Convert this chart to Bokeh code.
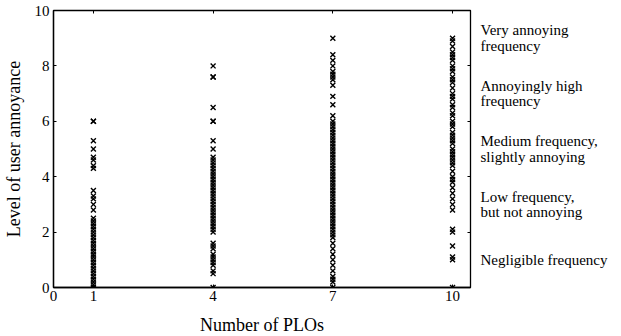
from bokeh.plotting import figure
from bokeh.models import Range1d, LinearAxis, FixedTicker, ColumnDataSource
from bokeh.embed import file_html
from bokeh.resources import INLINE

# ---- data ----
plo_counts = [1, 4, 7, 10]
annoy_1 = [6.0, 6.0, 5.3, 5.0, 4.7, 4.6, 4.4, 4.3, 3.5, 3.3, 3.2, 3.0, 2.8, 2.5, 2.4, 2.3,
           2.2, 2.1, 2.0, 1.9, 1.8, 1.7, 1.6, 1.5, 1.4, 1.3, 1.2, 1.1, 1.0, 0.9, 0.8, 0.7,
           0.6, 0.5, 0.4, 0.3, 0.2, 0.1, 0.0]
annoy_4 = [8.0, 7.6, 7.6, 6.5, 6.0, 6.0, 5.3, 5.0, 4.7, 4.6, 4.5, 4.4, 4.3, 4.2, 4.1, 4.0,
           3.9, 3.8, 3.7, 3.6, 3.5, 3.4, 3.3, 3.2, 3.1, 3.0, 2.9, 2.8, 2.7, 2.6, 2.5, 2.4,
           2.3, 2.2, 2.1, 2.0, 1.6, 1.5, 1.4, 1.2, 1.1, 1.0, 0.9, 0.8, 0.6, 0.5, 0.0]
annoy_7 = [9.0, 8.4, 8.2, 8.0, 7.8, 7.7, 7.6, 7.5, 7.3, 6.9, 6.6, 6.2, 6.0, 5.9, 5.8, 5.7,
           5.6, 5.5, 5.4, 5.3, 5.2, 5.1, 5.0, 4.9, 4.8, 4.7, 4.6, 4.5, 4.4, 4.3, 4.2, 4.1,
           4.0, 3.9, 3.8, 3.7, 3.6, 3.5, 3.4, 3.3, 3.2, 3.1, 3.0, 2.9, 2.8, 2.7, 2.6, 2.5,
           2.4, 2.3, 2.2, 2.1, 2.0, 1.9, 1.8, 1.6, 1.4, 1.2, 1.0, 0.8, 0.6, 0.4, 0.3, 0.2, 0.0]
annoy_10 = [9.0, 8.9, 8.7, 8.5, 8.4, 8.3, 8.2, 8.0, 7.9, 7.8, 7.6, 7.5, 7.4, 7.2, 7.0, 6.9,
            6.8, 6.6, 6.5, 6.3, 6.2, 6.0, 5.9, 5.8, 5.6, 5.5, 5.4, 5.3, 5.2, 5.0, 4.9, 4.8,
            4.7, 4.6, 4.5, 4.4, 4.2, 4.0, 3.9, 3.8, 3.6, 3.4, 3.2, 3.0, 2.8, 2.1, 2.0, 1.5,
            1.1, 1.0, 0.0]
x_ticks = [0, 1, 4, 7, 10]
y_ticks = [0, 2, 4, 6, 8, 10]
level_labels = ["Very annoying\nfrequency", "Annoyingly high\nfrequency",
                "Medium frequency,\nslightly annoying", "Low frequency,\nbut not annoying",
                "Negligible frequency"]
level_values = [9, 7, 5, 3, 1]

FONT = "Liberation Serif"

xs, ys = [], []
for n, vals in zip(plo_counts, [annoy_1, annoy_4, annoy_7, annoy_10]):
    xs += [n] * len(vals)
    ys += vals
src = ColumnDataSource(dict(x=xs, y=ys))

p = figure(output_backend="svg", toolbar_location=None,
           frame_width=417, frame_height=277,
           x_range=Range1d(0, 10.45), y_range=Range1d(0, 10),
           min_border_left=46, min_border_right=6, min_border_top=10, min_border_bottom=2)
p.background_fill_color = "white"
p.border_fill_color = "white"
p.outline_line_color = "black"
p.outline_line_width = 1.3
p.xgrid.visible = False
p.ygrid.visible = False

p.scatter("x", "y", source=src, marker="x", size=7, line_color="black", line_width=1.4)

for ax in (p.xaxis[0], p.yaxis[0]):
    ax.major_tick_in = 3
    ax.major_tick_out = 0
    ax.minor_tick_line_color = None
    ax.axis_line_color = "black"
    ax.axis_line_width = 1.3
    ax.major_label_text_font = FONT
    ax.major_label_text_font_size = "15px"
    ax.major_label_text_color = "black"
    ax.axis_label_text_font = FONT
    ax.axis_label_text_font_size = "18px"
    ax.axis_label_text_font_style = "normal"
    ax.axis_label_text_color = "black"

p.xaxis.ticker = FixedTicker(ticks=x_ticks)
p.yaxis.ticker = FixedTicker(ticks=y_ticks)
p.xaxis.axis_label = "Number of PLOs"
p.yaxis.axis_label = "Level of user annoyance"
p.xaxis.major_label_standoff = 3
p.yaxis.major_label_standoff = 4
p.xaxis.axis_label_standoff = 11
p.yaxis.axis_label_standoff = 8

# top axis: tick marks only (as minor ticks, so no label texts)
top = LinearAxis(ticker=FixedTicker(ticks=[], minor_ticks=x_ticks),
                 major_tick_line_color=None, minor_tick_in=3, minor_tick_out=0,
                 axis_line_color="black", major_label_standoff=0)
p.add_layout(top, "above")

# right axis: tick marks at even levels, annoyance descriptions at odd levels
right = LinearAxis(ticker=FixedTicker(ticks=level_values, minor_ticks=y_ticks),
                   major_label_overrides={v: t for v, t in zip(level_values, level_labels)},
                   major_tick_line_color=None, major_tick_out=0, major_tick_in=0,
                   minor_tick_in=3, minor_tick_out=0,
                   axis_line_color="black", major_label_standoff=10,
                   major_label_text_font=FONT, major_label_text_font_size="15px",
                   major_label_text_color="black", major_label_text_line_height=0.97)
p.add_layout(right, "right")

open("out.html", "w").write(file_html(p, INLINE))
